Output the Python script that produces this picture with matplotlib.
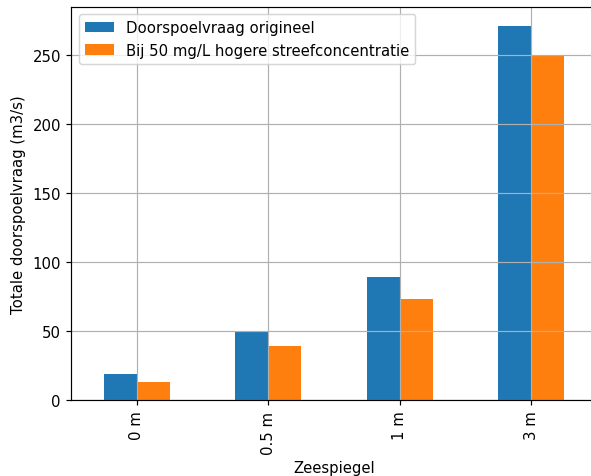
import numpy as np
import pandas as pd
import matplotlib
matplotlib.use('Agg')
import matplotlib.pyplot as plt

zeespiegel = ['0 m', '0.5 m', '1 m', '3 m']
origineel = [19, 49.5, 89, 271]
hoger = [13.3, 39.5, 73.5, 249.5]

df = pd.DataFrame({
    'Doorspoelvraag origineel': origineel,
    'Bij 50 mg/L hogere streefconcentratie': hoger,
}, index=zeespiegel)

dpi = 107
W, H = 591, 477
fig = plt.figure(figsize=(W / dpi, H / dpi), dpi=dpi)
# axes run past the right edge in the reference (right spine cropped)
ax = fig.add_axes([71.3 / W, 1 - 401.3 / H, (596.7 - 71.3) / W, (401.3 - 8) / H])
df.plot.bar(ax=ax, grid=True)
ax.set_xlabel('Zeespiegel')
ax.set_ylabel('Totale doorspoelvraag (m3/s)')
ax.legend(loc='upper left')
ax.spines['right'].set_visible(False)
fig.savefig('out.png', dpi=dpi)
